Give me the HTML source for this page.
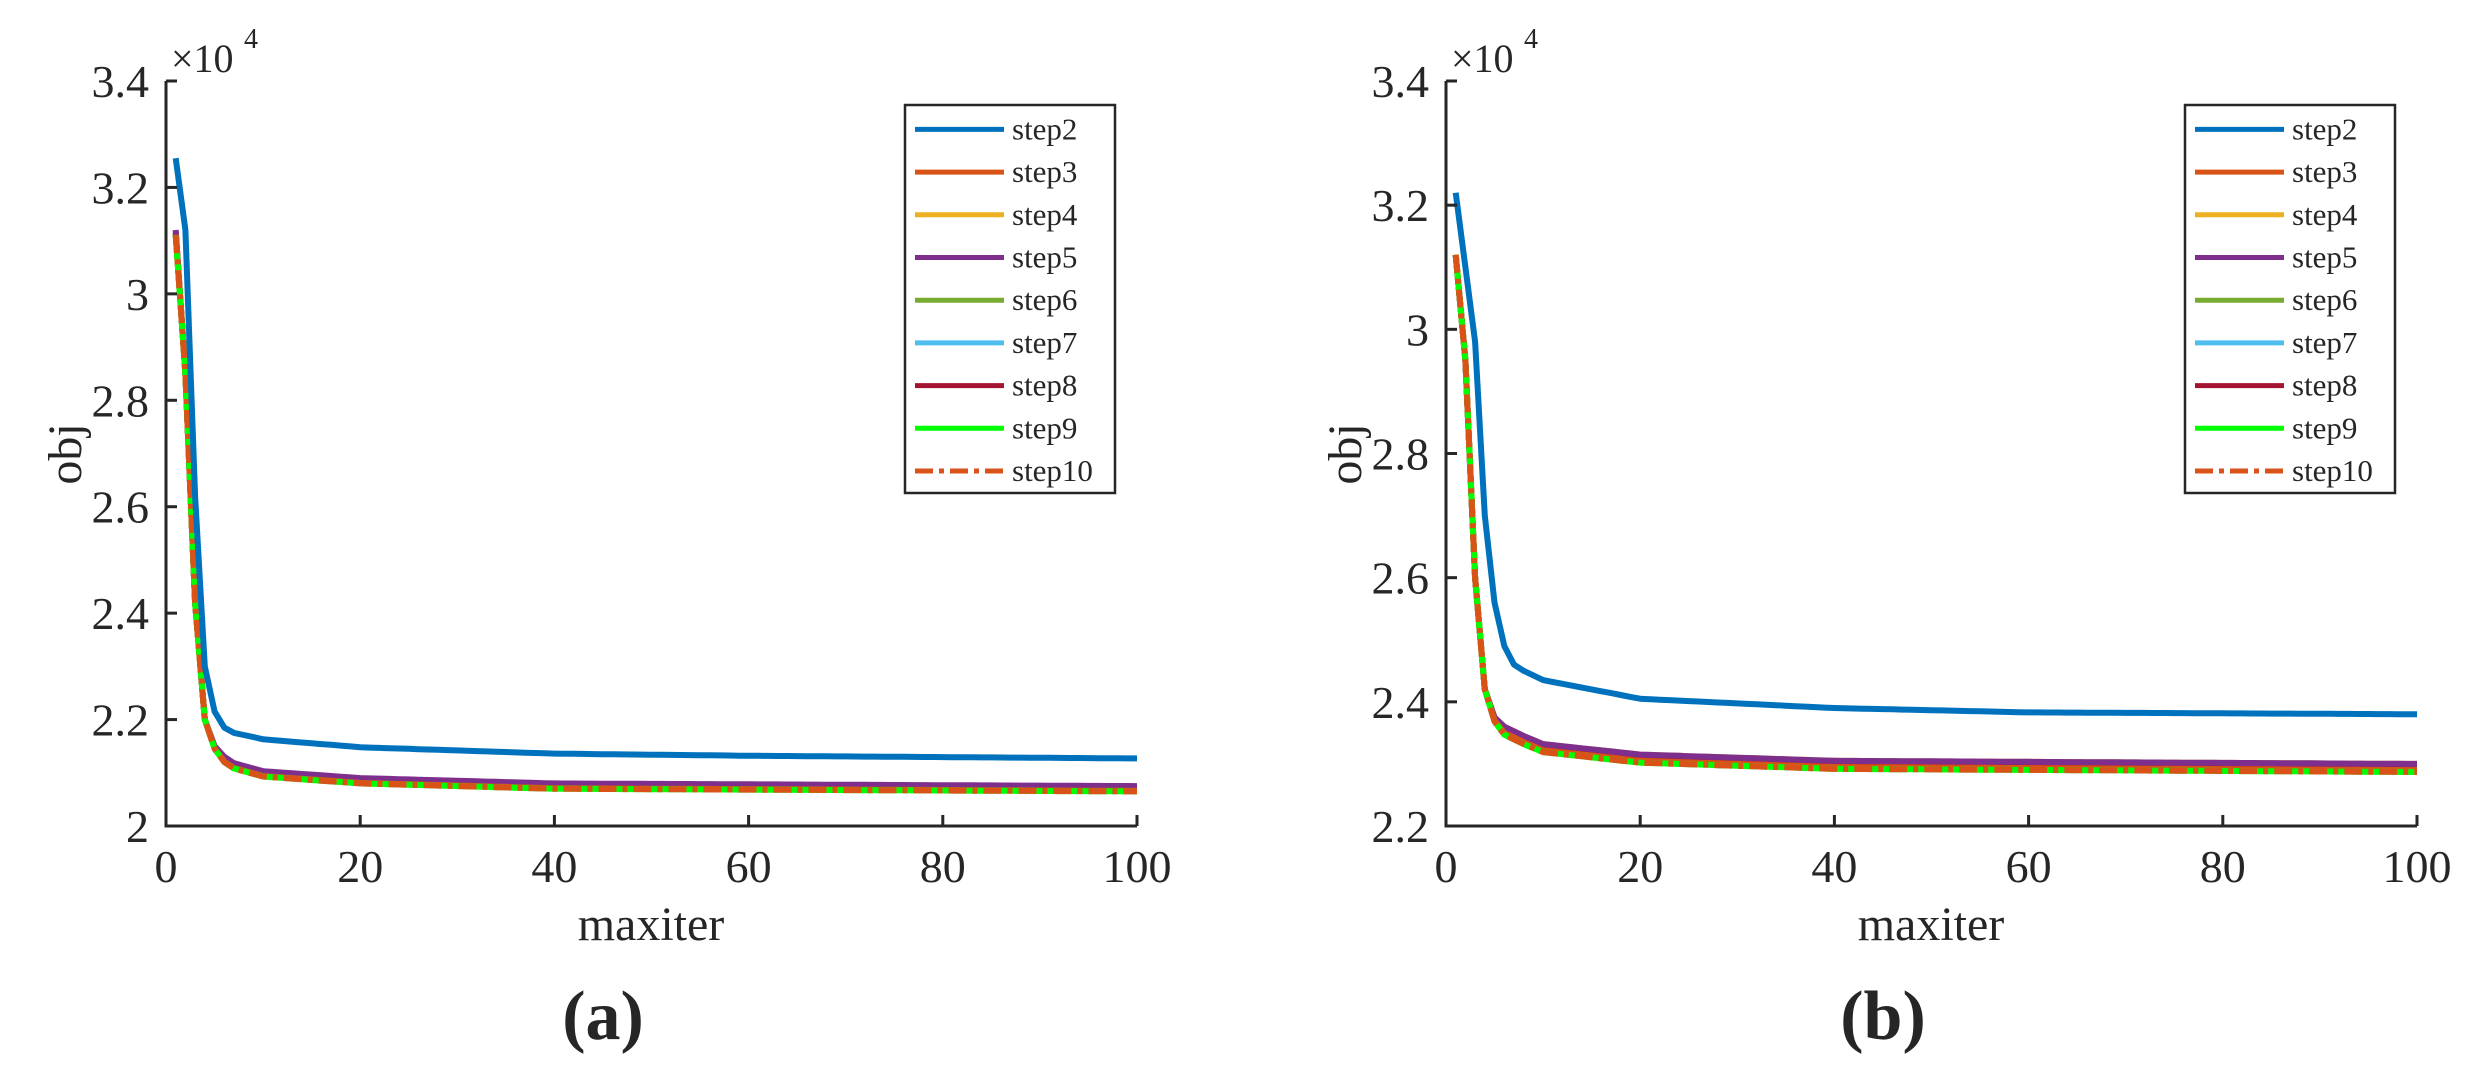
<!DOCTYPE html>
<html><head><meta charset="utf-8">
<style>html,body{margin:0;padding:0;background:#fff;}svg{display:block}</style>
</head><body>
<svg id="s" width="2488" height="1080" xmlns="http://www.w3.org/2000/svg" font-family="Liberation Serif, serif" fill="#262626"></svg>
<script>
const S=document.getElementById('s');let h='';
function interp(pts,x){for(let i=0;i<pts.length-1;i++){if(x>=pts[i][0]&&x<=pts[i+1][0]){const t=(x-pts[i][0])/(pts[i+1][0]-pts[i][0]);return pts[i][1]+t*(pts[i+1][1]-pts[i][1]);}}return pts[pts.length-1][1];}
function panel(L,ymin,ymax,ticks,series,lab){
 const R=L+971,T=81,B=826;
 const X=v=>L+(v)/100*(R-L), Y=v=>B-(v-ymin)/(ymax-ymin)*(B-T);
 series.forEach(s=>{let d='';for(let x=1;x<=100;x++){d+=(x==1?'M':'L')+X(x).toFixed(1)+','+Y(interp(s.p,x)).toFixed(1);}
  h+=`<path d="${d}" fill="none" stroke="${s.c}" stroke-width="6" ${s.dash?'stroke-dasharray="18,6,5,6"':''} stroke-linejoin="round"/>`;});
 h+=`<path d="M${L},${T}V${B}H${R}" fill="none" stroke="#262626" stroke-width="3"/>`;
 ticks.forEach(t=>{const y=Y(t);h+=`<line x1="${L}" x2="${L+11}" y1="${y}" y2="${y}" stroke="#262626" stroke-width="3"/>`;
  h+=`<text x="${L-17}" y="${y+16}" font-size="46" text-anchor="end">${t==2?'2':t==3?'3':t.toFixed(1)}</text>`;});
 for(let v=0;v<=100;v+=20){const x=X(v);h+=`<line x1="${x}" x2="${x}" y1="${B}" y2="${B-11}" stroke="#262626" stroke-width="3"/>`;
  h+=`<text x="${x}" y="882" font-size="46" text-anchor="middle">${v}</text>`;}
 h+=`<text x="${L+5}" y="72" font-size="40">×10</text><text x="${L+78}" y="48" font-size="28">4</text>`;
 h+=`<text transform="translate(${L-85},454) rotate(-90)" font-size="48" text-anchor="middle">obj</text>`;
 h+=`<text x="${L+485}" y="940" font-size="48" text-anchor="middle">maxiter</text>`;
 h+=`<text x="${L+437}" y="1039" font-size="70" font-weight="bold" text-anchor="middle">(${lab})</text>`;
 const lx=L+739,ly=105;
 h+=`<rect x="${lx}" y="${ly}" width="210" height="388" fill="#fff" stroke="#262626" stroke-width="2.5"/>`;
 const names=['step2','step3','step4','step5','step6','step7','step8','step9','step10'];
 const cols=['#0072BD','#D95319','#EDB120','#7E2F8E','#77AC30','#4DBEEE','#A2142F','#00FF00','#D95319'];
 names.forEach((n,i)=>{const y=129.4+i*42.7;
  h+=`<line x1="${lx+10}" x2="${lx+99}" y1="${y}" y2="${y}" stroke="${cols[i]}" stroke-width="5" ${i==8?'stroke-dasharray="18,6,5,6"':''}/>`;
  h+=`<text x="${lx+107}" y="${y+10}" font-size="31">${n}</text>`;});
}
const A2=[[1,3.255],[2,3.12],[3,2.62],[4,2.3],[5,2.215],[6,2.185],[7,2.175],[10,2.163],[20,2.148],[40,2.136],[60,2.132],[100,2.127]];
const Ao=d=>[[1,3.11+d],[2,2.85],[3,2.42],[4,2.2],[5,2.145+d/2],[6,2.12+d],[7,2.108+d],[10,2.093+d],[20,2.08+d],[40,2.07+d],[100,2.065+d]];
const cl=['#0072BD','#D95319','#EDB120','#7E2F8E','#77AC30','#4DBEEE','#A2142F','#00FF00','#D95319'];
panel(166,2,3.4,[2,2.2,2.4,2.6,2.8,3,3.2,3.4],[
 {c:cl[2],p:Ao(0.008)},{c:cl[4],p:Ao(0.004)},{c:cl[5],p:Ao(0.003)},{c:cl[6],p:Ao(0.005)},{c:cl[3],p:Ao(0.01)},
 {c:cl[1],p:Ao(0.001)},{c:cl[7],p:Ao(0)},{c:cl[8],p:Ao(0),dash:1},{c:cl[0],p:A2}],'a');
const B2=[[1,3.22],[2,3.1],[3,2.98],[4,2.7],[5,2.56],[6,2.49],[7,2.46],[8,2.45],[10,2.435],[20,2.405],[40,2.39],[60,2.383],[100,2.38]];
const Bo=d=>[[1,3.12],[2,2.95],[3,2.6],[4,2.42],[5,2.37+d/2],[6,2.35+d],[8,2.335+d],[10,2.322+d],[20,2.305+d],[40,2.295+d],[100,2.29+d]];
panel(1446,2.2,3.4,[2.2,2.4,2.6,2.8,3,3.2,3.4],[
 {c:cl[2],p:Bo(0.01)},{c:cl[4],p:Bo(0.004)},{c:cl[5],p:Bo(0.002)},{c:cl[6],p:Bo(0.006)},{c:cl[3],p:Bo(0.01)},
 {c:cl[1],p:Bo(0)},{c:cl[7],p:Bo(-0.003)},{c:cl[8],p:Bo(-0.003),dash:1},{c:cl[0],p:B2}],'b');
S.innerHTML=h;
</script>
</body></html>
